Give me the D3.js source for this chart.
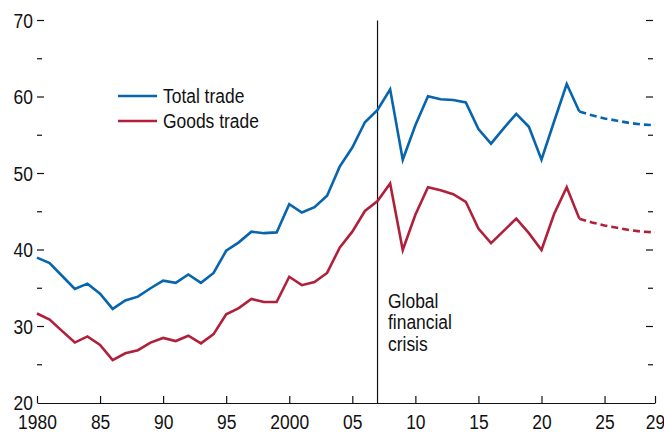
<!DOCTYPE html>
<html>
<head>
<meta charset="utf-8">
<script src="https://cdn.jsdelivr.net/npm/d3@7"></script>
<style>
  html, body { margin: 0; padding: 0; background: #fff; }
  svg { display: block; }
  text { font-family: "Liberation Sans", Arial, sans-serif; fill: #111; }
</style>
</head>
<body>
<svg id="chart" width="664" height="432"></svg>
<script>
const years = d3.range(1980, 2030);
const totalTrade = [39.0, 38.3, 36.6, 34.9, 35.6, 34.3, 32.3, 33.4, 33.9, 35.0,
  36.0, 35.7, 36.8, 35.7, 37.0, 39.9, 41.0, 42.4, 42.2, 42.3,
  46.0, 44.9, 45.6, 47.1, 50.9, 53.4, 56.7, 58.3, 61.0, 51.8,
  56.3, 60.1, 59.7, 59.6, 59.3, 55.8, 53.9, 55.9, 57.8, 56.1,
  51.8, 56.8, 61.7, 58.1, 57.6, 57.2, 56.9, 56.6, 56.4, 56.3];
const goodsTrade = [31.7, 30.9, 29.4, 27.9, 28.7, 27.6, 25.6, 26.5, 26.9, 27.9,
  28.5, 28.1, 28.8, 27.8, 29.0, 31.6, 32.4, 33.6, 33.2, 33.2,
  36.5, 35.4, 35.8, 37.0, 40.3, 42.4, 45.1, 46.4, 48.7, 40.0,
  44.6, 48.2, 47.8, 47.3, 46.3, 42.8, 40.9, 42.5, 44.1, 42.2,
  40.0, 44.7, 48.2, 44.1, 43.6, 43.2, 42.9, 42.6, 42.4, 42.3];
const lastActual = 2023;
const xTickValues = [1980, 1985, 1990, 1995, 2000, 2005, 2010, 2015, 2020, 2025, 2029];
const xTickLabels = ["1980", "85", "90", "95", "2000", "05", "10", "15", "20", "25", "29"];
const yMajor = [20, 30, 40, 50, 60, 70];
const yMinor = [25, 35, 45, 55, 65];
const seriesNames = ["Total trade", "Goods trade"];
const seriesColors = ["#0765ad", "#b0203a"];
const crisisYear = 2007;
const crisisLabel = ["Global", "financial", "crisis"];

const FS = 21;          // font size
const NARROW = "scale(0.83,1)"; // condensed look

const svg = d3.select("#chart");
const x = d3.scaleLinear().domain([1980, 2029]).range([37, 655]);
const y = d3.scaleLinear().domain([20, 70]).range([403, 20.5]);

// bottom axis
const xAxis = d3.axisBottom(x).tickValues(xTickValues)
  .tickFormat((d, i) => xTickLabels[i]).tickSizeInner(-7).tickSizeOuter(0).tickPadding(11);
const gx = svg.append("g").attr("transform", `translate(0,${y(20)})`).call(xAxis);
gx.select(".domain").attr("stroke", "#111").attr("stroke-width", 1.2);
gx.selectAll(".tick line").attr("stroke", "#111").attr("stroke-width", 1.2);
gx.selectAll("text").attr("font-size", FS).attr("fill", "#111")
  .attr("font-family", '"Liberation Sans", Arial, sans-serif')
  .attr("transform", NARROW);

// left axis labels + ticks
const gy = svg.append("g");
gy.selectAll("g.ylab").data(yMajor).join("g")
  .attr("class", "ylab")
  .attr("transform", d => `translate(33,${y(d)})`)
  .append("text").attr("dy", "0.35em").attr("text-anchor", "end")
  .attr("font-size", FS).attr("transform", NARROW).text(d => d);
gy.selectAll("line.ymaj").data(yMajor.filter(d => d > 20)).join("line")
  .attr("x1", 37).attr("x2", 44).attr("y1", d => y(d)).attr("y2", d => y(d))
  .attr("stroke", "#111").attr("stroke-width", 1.2);
gy.selectAll("line.ymin").data(yMinor).join("line")
  .attr("x1", 37).attr("x2", 42).attr("y1", d => y(d)).attr("y2", d => y(d))
  .attr("stroke", "#111").attr("stroke-width", 1.2);
// right ticks
gy.selectAll("line.rmaj").data(yMajor.filter(d => d > 20)).join("line")
  .attr("x1", 646).attr("x2", 653).attr("y1", d => y(d)).attr("y2", d => y(d))
  .attr("stroke", "#111").attr("stroke-width", 1.2);
gy.selectAll("line.rmin").data(yMinor).join("line")
  .attr("x1", 648).attr("x2", 653).attr("y1", d => y(d)).attr("y2", d => y(d))
  .attr("stroke", "#111").attr("stroke-width", 1.2);

// crisis line
svg.append("line")
  .attr("x1", x(crisisYear)).attr("x2", x(crisisYear))
  .attr("y1", y(70)).attr("y2", y(20))
  .attr("stroke", "#111").attr("stroke-width", 1.2);
svg.append("g").attr("transform", `translate(${x(crisisYear) + 10.5},307.5)`)
  .append("text").attr("font-size", FS).attr("transform", NARROW)
  .selectAll("tspan").data(crisisLabel).join("tspan")
  .attr("x", 0).attr("dy", (d, i) => i === 0 ? 0 : 22).text(d => d);

// lines
const line = d3.line().x(d => x(d[0])).y(d => y(d[1]));
[totalTrade, goodsTrade].forEach((vals, si) => {
  const pts = years.map((yr, i) => [yr, vals[i]]);
  const actual = pts.filter(p => p[0] <= lastActual);
  const proj = pts.filter(p => p[0] >= lastActual);
  svg.append("path").attr("d", line(actual)).attr("fill", "none")
    .attr("stroke", seriesColors[si]).attr("stroke-width", 2.6).attr("stroke-linejoin", "miter");
  svg.append("path").attr("d", line(proj)).attr("fill", "none")
    .attr("stroke", seriesColors[si]).attr("stroke-width", 2.6).attr("stroke-dasharray", "7,4");
});

// legend
const legend = svg.append("g");
seriesNames.forEach((name, i) => {
  const ly = 96 + i * 25;
  legend.append("line").attr("x1", 118).attr("x2", 157).attr("y1", ly).attr("y2", ly)
    .attr("stroke", seriesColors[i]).attr("stroke-width", 2.6);
  legend.append("g").attr("transform", `translate(163,${ly})`)
    .append("text").attr("dy", "0.35em").attr("font-size", FS)
    .attr("transform", NARROW).text(name);
});
</script>
</body>
</html>
